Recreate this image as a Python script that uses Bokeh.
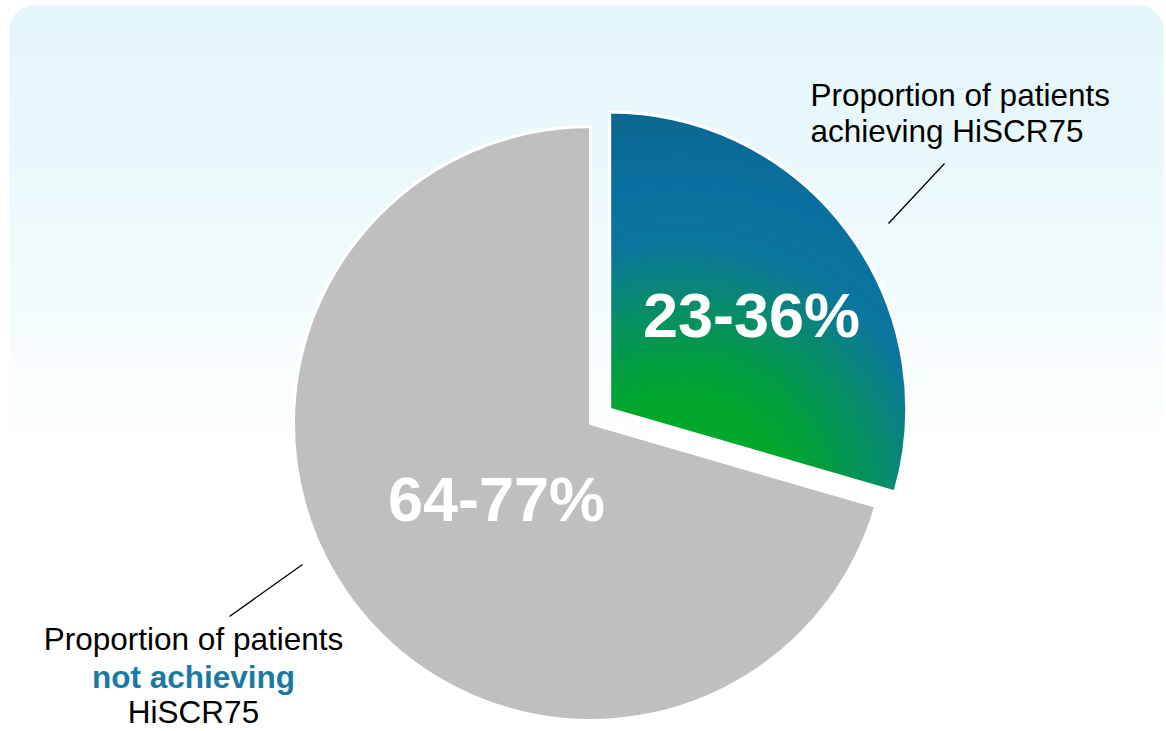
import numpy as np
from bokeh.plotting import figure
from bokeh.models import Range1d, ColumnDataSource
from bokeh.embed import file_html
from bokeh.resources import INLINE
from bokeh.core.properties import value

# ---------------- data ----------------
categories = ["Proportion of patients achieving HiSCR75",
              "Proportion of patients not achieving HiSCR75"]
share_mid = [29.5, 70.5]            # midpoint of reported range (%)
range_labels = ["23-36%", "64-77%"]
slice_colors = ["#0b74a0", "#bfbfbf"]
explode = [24, 0]

# ---------------- layout ----------------
W, H = 1166, 731
FONT = "Liberation Sans"


def Y(y):
    return H - y


def TY(y, size):
    # baseline correction for Bokeh text placement
    return H - (y - 0.38 * size)


p = figure(width=W, height=H, x_range=Range1d(0, W), y_range=Range1d(0, H),
           output_backend="svg", toolbar_location=None, min_border=0)
p.axis.visible = False
p.grid.visible = False
p.outline_line_color = None
p.background_fill_color = "white"
p.border_fill_color = "white"

# ---------- background panel (vertical gradient, rounded top corners) ----------
top_rgb = np.array([227, 246, 250])
white = np.array([255, 255, 255])
bx0, bx1, by0, by_end = 9, 1163, 5, 455
edges = np.arange(by0, by_end + 1, 3)
cols = []
for y0 in edges[:-1]:
    t = (y0 - by0) / (by_end - by0)
    c = top_rgb + (white - top_rgb) * t ** 1.3
    cols.append("#%02x%02x%02x" % tuple(int(round(v)) for v in c))
p.quad(left=bx0, right=bx1, top=[Y(v) for v in edges[:-1]],
       bottom=[Y(v + 3.6) for v in edges[:-1]], fill_color=cols, line_color=None)
RC = 26
for cx, cy, a0, a1, corner in [(bx0 + RC, Y(by0 + RC), 90, 180, (bx0, Y(by0))),
                               (bx1 - RC, Y(by0 + RC), 0, 90, (bx1, Y(by0)))]:
    a = np.radians(np.linspace(a0, a1, 30))
    xs = [corner[0]] + list(cx + (RC + 0.5) * np.cos(a))
    ys = [corner[1]] + list(cy + (RC + 0.5) * np.sin(a))
    p.patch(xs, ys, fill_color="white", line_color=None)

# ---------------- pie geometry ----------------
CX, CY, R = 590, Y(423), 297
start = 90.0
xs_c, ys_c, sa, ea = [], [], [], []
for s, ex in zip(share_mid, explode):
    end = start - s * 3.6
    mid = np.radians((start + end) / 2)
    xs_c.append(CX + ex * np.cos(mid))
    ys_c.append(CY + ex * np.sin(mid))
    sa.append(np.radians(end))
    ea.append(np.radians(start))
    start = end

src = ColumnDataSource(dict(x=xs_c, y=ys_c, start=sa, end=ea, color=slice_colors,
                            cat=categories))
p.wedge(x="x", y="y", radius=R, start_angle="start", end_angle="end",
        fill_color="color", line_color=None, source=src)

# ---------- gradient on highlighted slice (clipped rings) ----------
def clip(subject, clipper):
    out = subject
    n = len(clipper)
    for i in range(n):
        a, b = clipper[i], clipper[(i + 1) % n]
        inp, out = out, []
        if not inp:
            break

        def inside(pt):
            return (b[0] - a[0]) * (pt[1] - a[1]) - (b[1] - a[1]) * (pt[0] - a[0]) >= 0

        def inter(p1, p2):
            x1, y1 = p1; x2, y2 = p2; x3, y3 = a; x4, y4 = b
            den = (x1 - x2) * (y3 - y4) - (y1 - y2) * (x3 - x4)
            t = ((x1 - x3) * (y3 - y4) - (y1 - y3) * (x3 - x4)) / den
            return (x1 + t * (x2 - x1), y1 + t * (y2 - y1))

        prev = inp[-1]
        for cur in inp:
            if inside(cur):
                if not inside(prev):
                    out.append(inter(prev, cur))
                out.append(cur)
            elif inside(prev):
                out.append(inter(prev, cur))
            prev = cur
    return out


wx, wy = xs_c[0], ys_c[0]
arc = np.linspace(sa[0], ea[0], 120)
wedge_poly = [(wx, wy)] + [(wx + R * np.cos(t), wy + R * np.sin(t)) for t in arc]

stops_d = [0, 110, 150, 215, 270, 330, 420, 460]
stops_c = [(0, 172, 48), (0, 168, 42), (2, 158, 62), (8, 138, 112),
           (11, 118, 158), (11, 112, 160), (11, 100, 140), (11, 100, 140)]
GX, GY = 680, Y(510)
ring_x, ring_y, ring_c = [], [], []
for r in np.arange(450, 0, -5):
    rgb = [np.interp(r, stops_d, [c[k] for c in stops_c]) for k in range(3)]
    tt = np.linspace(0, 2 * np.pi, 200, endpoint=False)
    circ = [(GX + r * np.cos(t), GY + r * np.sin(t)) for t in tt]
    poly = clip(circ, wedge_poly)
    if len(poly) < 3:
        continue
    ring_x.append([q[0] for q in poly])
    ring_y.append([q[1] for q in poly])
    ring_c.append("#%02x%02x%02x" % tuple(int(round(v)) for v in rgb))
p.patches(ring_x, ring_y, fill_color=ring_c, line_color=ring_c, line_width=0.5)

# white outlines
p.wedge(x="x", y="y", radius=R, start_angle="start", end_angle="end",
        fill_alpha=0, line_color="white", line_width=3, source=src)

# ---------------- value labels ----------------
BIG = 63
val_x = [751, 496]
val_y = [TY(338, BIG), TY(522, BIG)]
p.text(x=val_x, y=val_y, text=range_labels, text_color="white",
       text_font=value(FONT), text_font_style="bold", text_font_size=f"{BIG}px",
       text_align="center", text_baseline="alphabetic")

# ---------------- annotations ----------------
SM = 31.5
p.text(x=[810, 810], y=[TY(106, SM), TY(142, SM)],
       text=["Proportion of patients", "achieving HiSCR75"],
       text_color="black", text_font=value(FONT), text_font_size=f"{SM}px",
       text_align="left", text_baseline="alphabetic")
p.text(x=[193, 193], y=[TY(650, SM), TY(723, SM)],
       text=["Proportion of patients", "HiSCR75"],
       text_color="black", text_font=value(FONT), text_font_size=f"{SM}px",
       text_align="center", text_baseline="alphabetic")
p.text(x=[193], y=[TY(688, SM)], text=["not achieving"], text_color="#1a7aa4",
       text_font=value(FONT), text_font_style="bold", text_font_size=f"{SM}px",
       text_align="center", text_baseline="alphabetic")

p.segment(x0=[888, 302], y0=[Y(223), Y(564)], x1=[944, 229], y1=[Y(163), Y(616)],
          line_color="black", line_width=1.3)

open("out.html", "w").write(file_html(p, INLINE))
